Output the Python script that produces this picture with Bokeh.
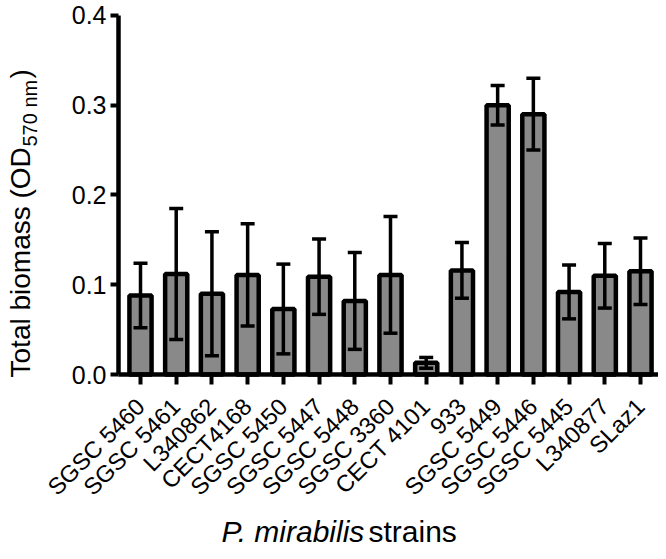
import math
from bokeh.plotting import figure
from bokeh.models import (ColumnDataSource, Range1d, FixedTicker, Whisker, TeeHead,
                          Label, NumeralTickFormatter)
from bokeh.embed import file_html
from bokeh.resources import INLINE

# ---- data ----
strains = ["SGSC 5460", "SGSC 5461", "L340862", "CECT4168", "SGSC 5450", "SGSC 5447",
           "SGSC 5448", "SGSC 3360", "CECT 4101", "933", "SGSC 5449", "SGSC 5446",
           "SGSC 5445", "L340877", "SLaz1"]
biomass = [0.088, 0.112, 0.090, 0.111, 0.073, 0.109, 0.082, 0.111, 0.013, 0.116,
           0.300, 0.290, 0.092, 0.110, 0.115]
sd = [0.036, 0.073, 0.069, 0.057, 0.050, 0.042, 0.054, 0.065, 0.006, 0.031,
      0.022, 0.040, 0.030, 0.036, 0.037]
y_ticks = [0.0, 0.1, 0.2, 0.3, 0.4]

FONT = "Liberation Sans"
W, H = 658, 551

xs = list(range(len(strains)))
src = ColumnDataSource(dict(
    x=xs, top=biomass,
    upper=[b + s for b, s in zip(biomass, sd)],
    lower=[b - s for b, s in zip(biomass, sd)],
))

# frame covers the whole canvas; axes are pinned inside it
p = figure(width=W, height=H, output_backend="svg", toolbar_location=None,
           x_range=Range1d(-3.920, 14.504), y_range=Range1d(-0.19721, 0.41671),
           min_border=0, min_border_left=0, min_border_right=0,
           min_border_top=0, min_border_bottom=0)
p.title.visible = False
p.outline_line_color = None
p.xgrid.visible = False
p.ygrid.visible = False
p.background_fill_color = "white"
p.border_fill_color = "white"

p.vbar(x="x", top="top", bottom=0, width=0.62, source=src,
       fill_color="#898989", line_color="black", line_width=4.5)

w = Whisker(base="x", upper="upper", lower="lower", source=src,
            line_color="black", line_width=3.5, level="overlay",
            upper_head=TeeHead(size=14, line_width=3.5, line_color="black"),
            lower_head=TeeHead(size=14, line_width=3.5, line_color="black"))
p.add_layout(w)

# axes
for ax in (p.xaxis[0], p.yaxis[0]):
    ax.axis_line_width = 4.5
    ax.major_tick_line_width = 4
    ax.minor_tick_line_color = None
    ax.major_label_text_font = FONT
    ax.major_label_text_color = "black"
    ax.major_tick_in = 0

p.yaxis.fixed_location = -0.616
p.yaxis.bounds = (0, 0.4)
p.yaxis.ticker = FixedTicker(ticks=y_ticks)
p.yaxis.formatter = NumeralTickFormatter(format="0.0")
p.yaxis.major_tick_out = 8
p.yaxis.major_label_text_font_size = "25px"
p.yaxis.major_label_standoff = 4

p.xaxis.fixed_location = 0
p.xaxis.bounds = (-0.616, 14.504)
p.xaxis.ticker = FixedTicker(ticks=xs)
p.xaxis.major_label_overrides = {i: s for i, s in enumerate(strains)}
p.xaxis.major_tick_out = 10
p.xaxis.major_label_orientation = math.pi / 4
p.xaxis.major_label_text_font_size = "23.5px"
p.xaxis.major_label_standoff = 18

# axis titles (composed from runs)
def lab(x, y, text, size, angle=0.0, style="normal"):
    p.add_layout(Label(x=x, y=y, text=text, angle=angle, text_font=FONT,
                       text_font_size=size, text_font_style=style,
                       text_align="left", text_baseline="alphabetic",
                       text_color="black"))

lab(-3.354, -0.0033, "Total biomass (OD", "28px", math.pi / 2)
lab(-3.108, 0.2540, "570 nm", "20px", math.pi / 2)
lab(-3.354, 0.3298, ")", "28px", math.pi / 2)
lab(2.268, -0.1749, "P. mirabilis", "30px", style="italic")
lab(6.384, -0.1749, "strains", "30px")

open("out.html", "w").write(file_html(p, INLINE))
